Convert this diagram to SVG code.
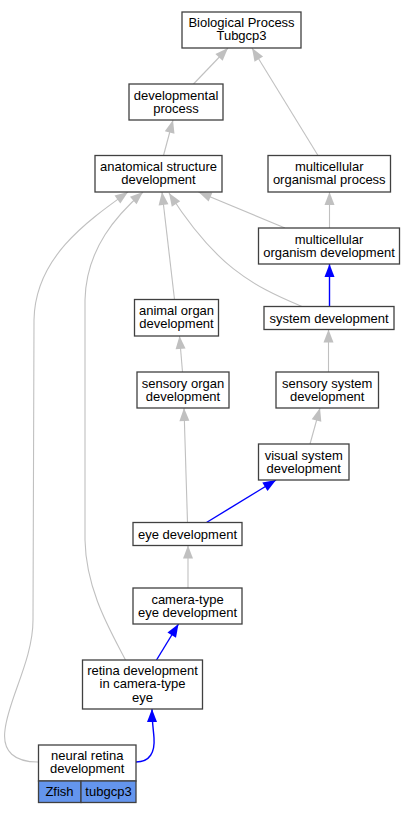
<svg xmlns="http://www.w3.org/2000/svg" width="416" height="813" viewBox="0 0 416 813">
<style>
  .n rect { fill: #ffffff; stroke: #404040; stroke-width: 1.3; }
  .n rect.c { fill: #6495ed; }
  text { font-family: "Liberation Sans", Arial, sans-serif; font-size: 13px; fill: #000; text-anchor: middle; }
  .g { fill: none; stroke: #c0c0c0; stroke-width: 1.1; marker-end: url(#ag); }
  .b { fill: none; stroke: #0000ff; stroke-width: 1.4; marker-end: url(#ab); }
</style>
<defs>
  <marker id="ag" markerUnits="userSpaceOnUse" markerWidth="14" markerHeight="10" refX="13" refY="5" orient="auto" overflow="visible">
    <path d="M0,0 L13,5 L0,10 z" fill="#c0c0c0"/>
  </marker>
  <marker id="ab" markerUnits="userSpaceOnUse" markerWidth="14" markerHeight="10" refX="13" refY="5" orient="auto" overflow="visible">
    <path d="M0,0 L13,5 L0,10 z" fill="#0000ff"/>
  </marker>
</defs>
<rect width="416" height="813" fill="#ffffff"/>
<g id="edges">
  <path class="g" d="M193.5,84 L228,48"/>
  <path class="g" d="M318,155.5 L252,48"/>
  <path class="g" d="M163.5,155.5 L173,120"/>
  <path class="g" d="M329.5,228 L329.5,192"/>
  <path class="g" d="M285,228 L198.5,192"/>
  <path class="b" d="M329.5,306.5 L329.5,264"/>
  <path class="g" d="M302,306.5 C250,285 215,265 169,193"/>
  <path class="g" d="M174.5,299.5 L162,192"/>
  <path class="g" d="M182.5,372 L179.5,336"/>
  <path class="g" d="M328.5,372 L328.5,329.5"/>
  <path class="g" d="M310,444 L320,408"/>
  <path class="g" d="M187.5,522.5 L184,408"/>
  <path class="b" d="M206.5,522.5 L276,480"/>
  <path class="g" d="M188,588 L188,545.5"/>
  <path class="b" d="M156.5,660 L178.5,624"/>
  <path class="g" d="M125.5,660 C110,630 86,590 85,540 L85,300 C86,248 118,214 143,192"/>
  <path class="b" d="M136,762 C150,762 155,752 154,738 C153.5,730 152,722 152,709"/>
  <path class="g" d="M38,762 C15,762 2,752 5,730 C8,700 33,660 33,620 L34,320 C35,258 86,222 128,192"/>
</g>
<g id="bp" class="n"><rect x="182" y="12" width="119" height="36"/><text x="241.5" y="27">Biological Process</text><text x="241.5" y="40">Tubgcp3</text></g>
<g id="devproc" class="n"><rect x="129" y="84" width="94" height="36"/><text x="176" y="99.5">developmental</text><text x="176" y="112.5">process</text></g>
<g id="anat" class="n"><rect x="95" y="155.5" width="127" height="36.5"/><text x="158.5" y="171">anatomical structure</text><text x="158.5" y="184">development</text></g>
<g id="mcproc" class="n"><rect x="268" y="155.5" width="122.5" height="36.5"/><text x="329.25" y="171">multicellular</text><text x="329.25" y="184">organismal process</text></g>
<g id="mcdev" class="n"><rect x="258.5" y="228" width="141" height="36"/><text x="329" y="243.5">multicellular</text><text x="329" y="256.5">organism development</text></g>
<g id="animal" class="n"><rect x="134.5" y="299.5" width="84" height="36.5"/><text x="176.5" y="315">animal organ</text><text x="176.5" y="328">development</text></g>
<g id="system" class="n"><rect x="264" y="306.5" width="130" height="23"/><text x="329" y="322.5">system development</text></g>
<g id="sensorg" class="n"><rect x="137" y="372" width="92" height="36"/><text x="183" y="387.5">sensory organ</text><text x="183" y="400.5">development</text></g>
<g id="senssys" class="n"><rect x="276" y="372" width="102.5" height="36"/><text x="327.25" y="387.5">sensory system</text><text x="327.25" y="400.5">development</text></g>
<g id="visual" class="n"><rect x="258.5" y="444" width="90.5" height="36"/><text x="303.75" y="459.5">visual system</text><text x="303.75" y="472.5">development</text></g>
<g id="eye" class="n"><rect x="133" y="522.5" width="109" height="23"/><text x="187.5" y="538.5">eye development</text></g>
<g id="camera" class="n"><rect x="133" y="588" width="109" height="36"/><text x="187.5" y="603.5">camera-type</text><text x="187.5" y="616.5">eye development</text></g>
<g id="retina" class="n"><rect x="82.5" y="660" width="120" height="49"/><text x="142.5" y="674.5">retina development</text><text x="142.5" y="688">in camera-type</text><text x="142.5" y="701.5">eye</text></g>
<g id="neural" class="n"><rect x="38.5" y="745" width="97.5" height="36"/><rect class="c" x="38.5" y="781" width="42.5" height="21.5"/><rect class="c" x="81" y="781" width="55" height="21.5"/><text x="87.25" y="760">neural retina</text><text x="87.25" y="773">development</text><text x="59.5" y="796">Zfish</text><text x="108.5" y="796">tubgcp3</text></g>
</svg>
